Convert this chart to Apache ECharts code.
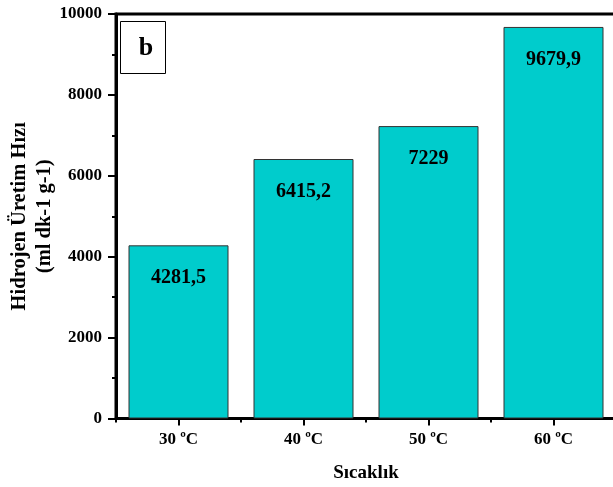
<!DOCTYPE html>
<html>
<head>
<meta charset="utf-8">
<script src="https://cdn.jsdelivr.net/npm/echarts@6/dist/echarts.min.js"></script>
<style>
  html, body { margin: 0; padding: 0; background: #fff; }
  #chart { width: 613px; height: 487px; }
</style>
</head>
<body>
<div id="chart"></div>
<script>
// Hydrogen production rate by temperature
const categories = ['30 ºC', '40 ºC', '50 ºC', '60 ºC'];
const rates = [4281.5, 6415.2, 7229, 9679.9];
const rateLabels = ['4281,5', '6415,2', '7229', '9679,9'];
const yTicks = [0, 2000, 4000, 6000, 8000, 10000];

const FONT = "'Liberation Serif', 'Times New Roman', serif";

const chart = echarts.init(document.getElementById('chart'), null, { renderer: 'canvas' });

chart.setOption({
  animation: false,
  backgroundColor: '#fff',
  grid: {
    left: 116, top: 14, width: 500, height: 404.5,
    outerBoundsMode: 'none',
    containLabel: false,
    show: true, borderColor: '#000', borderWidth: 3, backgroundColor: 'transparent'
  },
  xAxis: [
    {
      type: 'category',
      data: categories,
      position: 'bottom',
      axisLine: { show: true, lineStyle: { color: '#000', width: 3 } },
      axisTick: { show: true, alignWithLabel: true, length: 7, lineStyle: { color: '#000', width: 2 } },
      axisLabel: { color: '#000', fontFamily: FONT, fontWeight: 'bold', fontSize: 17, margin: 13 },
      name: 'Sıcaklık',
      nameLocation: 'middle',
      nameGap: 45,
      nameMoveOverlap: false,
      nameTextStyle: { color: '#000', fontFamily: FONT, fontWeight: 'bold', fontSize: 19 }
    },
    {
      // short ticks on the category boundaries
      type: 'category',
      data: categories,
      position: 'bottom',
      axisLine: { show: false },
      axisTick: { show: true, alignWithLabel: false, length: 4, lineStyle: { color: '#000', width: 2 } },
      axisLabel: { show: false }
    }
  ],
  yAxis: {
    type: 'value',
    min: yTicks[0],
    max: yTicks[yTicks.length - 1],
    interval: yTicks[1] - yTicks[0],
    axisLine: { show: true, lineStyle: { color: '#000', width: 3 } },
    axisTick: { show: true, length: 8, lineStyle: { color: '#000', width: 2 } },
    minorTick: { show: true, splitNumber: 2, length: 4, lineStyle: { color: '#000', width: 2 } },
    splitLine: { show: false },
    axisLabel: {
      color: '#000', fontFamily: FONT, fontWeight: 'bold', fontSize: 17, margin: 14,
      formatter: v => String(v)
    },
    name: 'Hidrojen Üretim Hızı\n(ml dk-1 g-1)',
    nameLocation: 'middle',
    nameGap: 59,
    nameMoveOverlap: false,
    nameTextStyle: { color: '#000', fontFamily: FONT, fontWeight: 'bold', fontSize: 20.5, lineHeight: 25 }
  },
  series: [{
    type: 'bar',
    data: rates,
    barCategoryGap: '20%',
    itemStyle: { color: '#00CCCC', borderColor: '#333', borderWidth: 1 },
    label: {
      show: true,
      position: 'insideTop',
      distance: 23,
      color: '#000',
      fontFamily: FONT,
      fontWeight: 'bold',
      fontSize: 20,
      formatter: p => rateLabels[p.dataIndex]
    }
  }],
  graphic: [
    {
      type: 'rect',
      shape: { x: 120.5, y: 21.5, width: 45, height: 52 },
      style: { fill: '#fff', stroke: '#000', lineWidth: 1 },
      z: 100
    },
    {
      type: 'text',
      x: 146, y: 48,
      style: {
        text: 'b', fill: '#000', font: "bold 26px 'Liberation Serif', serif",
        textAlign: 'center', textVerticalAlign: 'middle'
      },
      z: 101
    }
  ]
});
</script>
</body>
</html>
